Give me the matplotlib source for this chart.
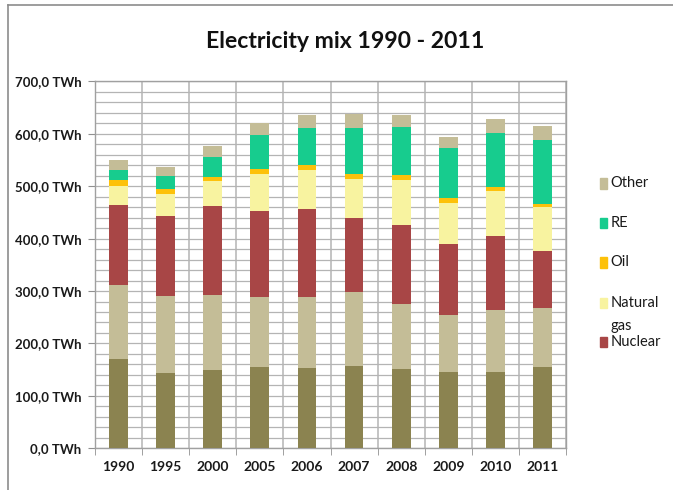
import numpy as np
import matplotlib
matplotlib.use("Agg")
import matplotlib.pyplot as plt
from matplotlib.lines import Line2D
from matplotlib.patches import Rectangle

plt.rcParams["font.family"] = ["Lato", "DejaVu Sans"]

# ----------------------------------------------------------
# DATA (TWh)
# ----------------------------------------------------------

years = ["1990", "1995", "2000", "2005", "2006", "2007", "2008", "2009", "2010", "2011"]

lignite = [171, 143, 149, 154.5, 153, 156.4, 151.8, 146, 146, 154.5]
hard_coal = [141, 147.5, 143.4, 134, 136, 141, 124, 108.8, 117.8, 112.5]
nuclear = [153, 153, 169.6, 163.4, 168, 141.5, 150.7, 134.9, 140.5, 108.7]
natural_gas = [35, 41.5, 47.8, 71, 73, 75, 85.8, 77.6, 85.7, 85.1]
oil = [11, 9.5, 7.2, 10.3, 10.3, 9.6, 8.4, 10.1, 8.4, 5.7]
renewables = [20, 25.5, 38, 63.7, 71.2, 87.7, 92.7, 94.8, 103, 121.5]
other = [18, 16.5, 21.6, 24, 24.8, 26.5, 23, 21.5, 26.6, 26.7]

series = [
    ("Lignite", lignite, "#8b8350"),
    ("Hard coal", hard_coal, "#c4bd97"),
    ("Nuclear", nuclear, "#a84646"),
    ("Natural\ngas", natural_gas, "#f8f3a0"),
    ("Oil", oil, "#fdc10a"),
    ("RE", renewables, "#17cc8e"),
    ("Other", other, "#c4bd97"),
]
colors = {name: color for name, _, color in series}

# ----------------------------------------------------------
# FIGURE
# ----------------------------------------------------------

fig = plt.figure(figsize=(6.73, 4.9), dpi=100)
ax = fig.add_axes([0.1412, 0.0851, 0.6998, 0.7489])

x = np.arange(len(years))
bottom = np.zeros(len(years))
for name, vals, color in series:
    ax.bar(x, vals, width=0.4, bottom=bottom, color=color,
           edgecolor="none", zorder=3)
    bottom += np.array(vals)

ax.set_xlim(-0.5, len(years) - 0.5)
ax.set_ylim(0, 700)

# horizontal grid every 20 TWh, labels every 100
ax.set_yticks(np.arange(0, 701, 100))
ax.set_yticks(np.arange(0, 701, 20), minor=True)
ax.set_yticklabels([f"{v:.1f}".replace(".", ",") + " TWh" for v in range(0, 701, 100)],
                   fontsize=9.5, fontweight="bold", color="#1a1a1a")
ax.grid(axis="y", which="both", color="#b4b4b4", linewidth=0.9, zorder=0)
ax.tick_params(axis="y", which="minor", length=0)
ax.tick_params(axis="y", which="major", length=5, color="#909090", pad=5)

# category labels, separators between categories
ax.set_xticks(x)
ax.set_xticklabels(years, fontsize=10, fontweight="bold", color="#1a1a1a")
ax.tick_params(axis="x", which="major", length=0, pad=9)
ax.set_xticks(np.arange(-0.5, len(years), 1), minor=True)
ax.tick_params(axis="x", which="minor", length=5, color="#909090")
ax.grid(axis="x", which="minor", color="#b4b4b4", linewidth=1.1, zorder=0)

for s in ax.spines.values():
    s.set_color("#a0a0a0")
    s.set_linewidth(1.0)

fig.text(0.513, 0.915, "Electricity mix 1990 - 2011", ha="center", va="center",
         fontsize=16.6, fontweight="bold", color="#111111")

# legend entries (figure fraction), key placed beside the first text line
legend_items = [("Other", 0.626), ("RE", 0.545), ("Oil", 0.465),
                ("Natural\ngas", 0.382), ("Nuclear", 0.302)]
for label, yc in legend_items:
    fig.add_artist(Rectangle((0.8915, yc - 0.011), 0.0105, 0.021,
                             transform=fig.transFigure, color=colors[label]))
    fig.text(0.907, yc + 0.014, label, ha="left", va="top",
             fontsize=10.5, color="#1a1a1a", linespacing=1.8)

# outer frame (top and left edges)
fig.add_artist(Line2D([0.012, 1.0], [0.99, 0.99], transform=fig.transFigure,
                      color="#8c8c8c", linewidth=1.2))
fig.add_artist(Line2D([0.012, 0.012], [0.0, 0.99], transform=fig.transFigure,
                      color="#8c8c8c", linewidth=1.2))

fig.savefig("out.png", dpi=100)
